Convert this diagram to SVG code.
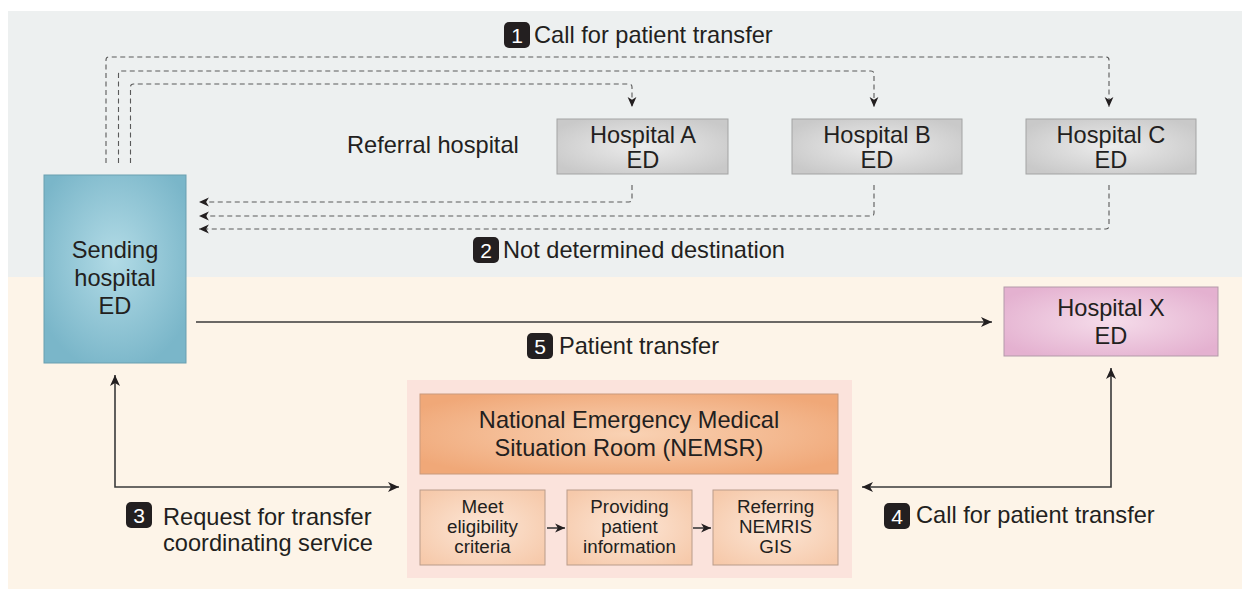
<svg xmlns="http://www.w3.org/2000/svg" width="1242" height="590" viewBox="0 0 1242 590">
<style>
.t{font-family:"Liberation Sans",Arial,sans-serif;font-size:23.6px;fill:#231f20}
.ts{font-family:"Liberation Sans",Arial,sans-serif;font-size:18.8px;fill:#231f20}
.c{text-anchor:middle}
.bn{font-family:"Liberation Sans",Arial,sans-serif;font-size:21px;fill:#fff;text-anchor:middle}
.badge{fill:#231f20}
.dash{fill:none;stroke:#5a5a5a;stroke-width:1.1;stroke-dasharray:5 3.5}
.solid{fill:none;stroke:#3a3a3a;stroke-width:1.6}
</style>
<defs>
<radialGradient id="gBlue" cx="0.5" cy="0.45" r="0.6"><stop offset="0" stop-color="#b2dbe6"/><stop offset="1" stop-color="#7ab6c9"/></radialGradient>
<radialGradient id="gGrey" cx="0.5" cy="0.5" r="0.6"><stop offset="0" stop-color="#ececec"/><stop offset="1" stop-color="#c9c9c9"/></radialGradient>
<radialGradient id="gPink" cx="0.5" cy="0.5" r="0.6"><stop offset="0" stop-color="#f5dcea"/><stop offset="1" stop-color="#e4b1d0"/></radialGradient>
<radialGradient id="gOrange" cx="0.5" cy="0.5" r="0.6"><stop offset="0" stop-color="#f9d2b4"/><stop offset="1" stop-color="#f0a878"/></radialGradient>
<radialGradient id="gPeach" cx="0.5" cy="0.5" r="0.65"><stop offset="0" stop-color="#fce6d6"/><stop offset="1" stop-color="#f6c9aa"/></radialGradient>
<marker id="ah" markerUnits="userSpaceOnUse" markerWidth="12" markerHeight="12" viewBox="0 0 12 12" refX="11" refY="6" orient="auto-start-reverse"><path d="M0,1 L11,6 L0,11 L3,6 z" fill="#231f20"/></marker>
<marker id="ahs" markerUnits="userSpaceOnUse" markerWidth="11" markerHeight="11" viewBox="0 0 10 10" refX="9" refY="5" orient="auto"><path d="M0,1 L9,5 L0,9 L2.5,5 z" fill="#231f20"/></marker>
</defs>

<g id="background">
<rect x="8" y="11" width="1234" height="266" fill="#edf0f0"/>
<rect x="8" y="277" width="1234" height="312" fill="#fdf4e8"/>
<rect x="407" y="380" width="445" height="198" fill="#fbe3dc"/>
</g>

<g id="connectors">
<path class="dash" d="M106,163 V60 Q106,57 109,57 H1106 Q1109,57 1109,60 V107" marker-end="url(#ahs)"/>
<path class="dash" d="M118.5,163 V74 Q118.5,71 121.5,71 H871 Q874,71 874,74 V107" marker-end="url(#ahs)"/>
<path class="dash" d="M130.5,163 V87 Q130.5,84 133.5,84 H629 Q632,84 632,87 V107" marker-end="url(#ahs)"/>
<path class="dash" d="M632,185 V199 Q632,202 629,202 H199" marker-end="url(#ahs)"/>
<path class="dash" d="M874,185 V213 Q874,216 871,216 H199" marker-end="url(#ahs)"/>
<path class="dash" d="M1109,185 V226 Q1109,229 1106,229 H199" marker-end="url(#ahs)"/>
<path class="solid" d="M196,322 H992" marker-end="url(#ah)"/>
<path class="solid" d="M115,375 V487 H399" marker-start="url(#ah)" marker-end="url(#ah)"/>
<path class="solid" d="M862,487 H1111 V368" marker-start="url(#ah)" marker-end="url(#ah)"/>
<path class="solid" d="M547,528 H565" stroke-width="1.3" marker-end="url(#ahs)"/>
<path class="solid" d="M693,528 H711" stroke-width="1.3" marker-end="url(#ahs)"/>
</g>

<g id="label1">
<rect class="badge" x="504" y="22" width="26" height="26" rx="5"/>
<text class="bn" x="517" y="42.5">1</text>
<text class="t" x="534" y="43">Call for patient transfer</text>
</g>
<g id="label2">
<rect class="badge" x="473" y="237" width="26" height="26" rx="5"/>
<text class="bn" x="486" y="257.5">2</text>
<text class="t" x="503" y="258">Not determined destination</text>
</g>
<g id="label5">
<rect class="badge" x="527" y="333" width="26" height="26" rx="5"/>
<text class="bn" x="540" y="353.5">5</text>
<text class="t" x="559" y="354">Patient transfer</text>
</g>
<g id="label3">
<rect class="badge" x="126" y="502" width="26" height="26" rx="5"/>
<text class="bn" x="139" y="522.5">3</text>
<text class="t" x="163" y="525">Request for transfer</text>
<text class="t" x="163" y="551">coordinating service</text>
</g>
<g id="label4">
<rect class="badge" x="884" y="503" width="26" height="26" rx="5"/>
<text class="bn" x="897" y="523.5">4</text>
<text class="t" x="916" y="523">Call for patient transfer</text>
</g>

<g id="referral-label">
<text class="t" x="347" y="153">Referral hospital</text>
</g>

<g id="sending">
<rect x="44" y="175" width="142" height="188" fill="url(#gBlue)" stroke="#6a9fb0" stroke-width="1"/>
<text class="t c" x="115" y="258">Sending</text>
<text class="t c" x="115" y="286">hospital</text>
<text class="t c" x="115" y="314">ED</text>
</g>

<g id="hospitalA">
<rect x="557" y="119" width="171" height="55" fill="url(#gGrey)" stroke="#a3a3a3" stroke-width="1"/>
<text class="t c" x="643" y="143">Hospital A</text>
<text class="t c" x="643" y="168">ED</text>
</g>
<g id="hospitalB">
<rect x="792" y="119" width="170" height="55" fill="url(#gGrey)" stroke="#a3a3a3" stroke-width="1"/>
<text class="t c" x="877" y="143">Hospital B</text>
<text class="t c" x="877" y="168">ED</text>
</g>
<g id="hospitalC">
<rect x="1026" y="119" width="170" height="55" fill="url(#gGrey)" stroke="#a3a3a3" stroke-width="1"/>
<text class="t c" x="1111" y="143">Hospital C</text>
<text class="t c" x="1111" y="168">ED</text>
</g>

<g id="hospitalX">
<rect x="1004" y="287" width="214" height="69" fill="url(#gPink)" stroke="#b39aa9" stroke-width="1"/>
<text class="t c" x="1111" y="316">Hospital X</text>
<text class="t c" x="1111" y="344">ED</text>
</g>

<g id="nemsr">
<rect x="420" y="394" width="418" height="80" fill="url(#gOrange)" stroke="#c99a7c" stroke-width="1"/>
<text class="t c" x="629" y="428">National Emergency Medical</text>
<text class="t c" x="629" y="456">Situation Room (NEMSR)</text>
</g>

<g id="step-eligibility">
<rect x="420" y="490" width="125" height="75" fill="url(#gPeach)" stroke="#b99c8a" stroke-width="1"/>
<text class="ts c" x="482.5" y="513">Meet</text>
<text class="ts c" x="482.5" y="533">eligibility</text>
<text class="ts c" x="482.5" y="553">criteria</text>
</g>
<g id="step-information">
<rect x="567" y="490" width="125" height="75" fill="url(#gPeach)" stroke="#b99c8a" stroke-width="1"/>
<text class="ts c" x="629.5" y="513">Providing</text>
<text class="ts c" x="629.5" y="533">patient</text>
<text class="ts c" x="629.5" y="553">information</text>
</g>
<g id="step-gis">
<rect x="713" y="490" width="125" height="75" fill="url(#gPeach)" stroke="#b99c8a" stroke-width="1"/>
<text class="ts c" x="775.5" y="513">Referring</text>
<text class="ts c" x="775.5" y="533">NEMRIS</text>
<text class="ts c" x="775.5" y="553">GIS</text>
</g>
</svg>
